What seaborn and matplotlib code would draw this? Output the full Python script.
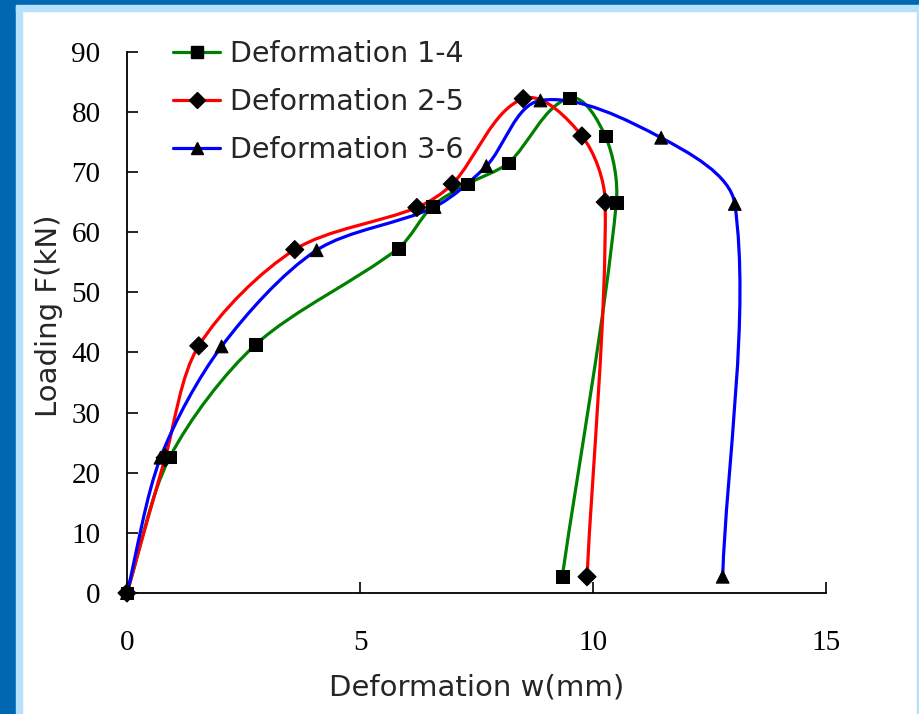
import numpy as np
import pandas as pd
import matplotlib
matplotlib.use('Agg')
import matplotlib.pyplot as plt
from matplotlib.path import Path
from matplotlib.patches import PathPatch, Rectangle
from matplotlib.lines import Line2D
import seaborn as sns

# values
w_14 = [0.0, 0.92, 2.76, 5.82, 6.55, 7.30, 8.18, 9.49, 10.26, 10.50, 9.34]
f_14 = [0.0, 22.6, 41.3, 57.3, 64.3, 68.0, 71.5, 82.3, 76.0, 65.0, 2.8]

w_25 = [0.0, 0.82, 1.54, 3.60, 6.22, 6.98, 8.50, 9.76, 10.26, 9.87]
f_25 = [0.0, 22.5, 41.1, 57.1, 64.1, 68.0, 82.2, 76.0, 65.0, 2.7]

w_36 = [0.0, 0.72, 2.03, 4.07, 6.60, 7.71, 8.87, 11.46, 13.04, 12.78]
f_36 = [0.0, 22.5, 41.0, 57.0, 64.2, 71.0, 81.9, 75.7, 64.7, 2.7]

labels = ["Deformation 1-4", "Deformation 2-5", "Deformation 3-6"]
colors = ["#008000", "#ff0000", "#0000ff"]
markers = ["s", "D", "^"]

df = pd.concat([
    pd.DataFrame({"w": w_14, "F": f_14, "series": labels[0]}),
    pd.DataFrame({"w": w_25, "F": f_25, "series": labels[1]}),
    pd.DataFrame({"w": w_36, "F": f_36, "series": labels[2]}),
])


def smooth_path(x, y, sx=699 / 15, sy=541 / 90, k=0.9):
    # excel style smoothed line: bezier segments through the points,
    # tangents scaled by segment length (worked out in screen-ish units)
    pts = np.column_stack([np.asarray(x) * sx, np.asarray(y) * sy]).astype(float)
    n = len(pts)
    tan = []
    for i in range(n):
        d = pts[min(i + 1, n - 1)] - pts[max(i - 1, 0)]
        tan.append(d / np.hypot(*d))
    verts = [pts[0]]
    codes = [Path.MOVETO]
    for i in range(n - 1):
        L = np.hypot(*(pts[i + 1] - pts[i]))
        verts += [pts[i] + tan[i] * L * k / 3, pts[i + 1] - tan[i + 1] * L * k / 3, pts[i + 1]]
        codes += [Path.CURVE4] * 3
    verts = np.array(verts) / [sx, sy]
    return Path(verts, codes)


sns.set_style("ticks")
plt.rcParams["font.family"] = ["DejaVu Sans"]

fig = plt.figure(figsize=(9.2, 7.14), dpi=100)
ax = fig.add_axes([0.138, 0.1695, 0.760, 0.758])

for (xs, ys), c in zip([(w_14, f_14), (w_25, f_25), (w_36, f_36)], colors):
    ax.add_patch(PathPatch(smooth_path(xs, ys), facecolor="none", edgecolor=c,
                           lw=2.3, zorder=2, capstyle="round"))

sns.scatterplot(data=df, x="w", y="F", style="series", markers=dict(zip(labels, markers)),
                color="black", edgecolor="black", s=85, legend=False, ax=ax,
                zorder=3, clip_on=False)

ax.set_xlim(0, 15)
ax.set_ylim(0, 90)
ax.set_xticks([0, 5, 10, 15])
ax.set_yticks(range(0, 91, 10))
ax.tick_params(direction="in", length=8, width=1.2, colors="black")
ax.tick_params(axis="x", pad=27)
ax.tick_params(axis="y", pad=19)
for lab in ax.get_xticklabels() + ax.get_yticklabels():
    lab.set_fontfamily("Liberation Serif")
    lab.set_fontsize(21)
sns.despine(ax=ax)
for s in ["left", "bottom"]:
    ax.spines[s].set_linewidth(1.3)
    ax.spines[s].set_color("black")

ax.set_xlabel("Deformation w(mm)", fontsize=21, labelpad=12)
ax.set_ylabel("Loading F(kN)", fontsize=21)
ax.yaxis.set_label_coords(-0.092, 0.512)

handles = [Line2D([], [], color=c, lw=2.3, marker=m, markerfacecolor="black",
                  markeredgecolor="black", markersize=8)
           for c, m in zip(colors, markers)]
ax.legend(handles, labels, loc="upper left", bbox_to_anchor=(0.066, 1.022), frameon=False,
          fontsize=20.5, borderpad=0, borderaxespad=0, handlelength=1.65,
          handletextpad=0.35, labelspacing=0.70)

# blue slide frame
dark, light = "#0068b3", "#b5e1fd"
fig.patches.append(Rectangle((0, 0), 16 / 920, 1, transform=fig.transFigure, color=dark, zorder=0))
fig.patches.append(Rectangle((16 / 920, 0), 6 / 920, 1, transform=fig.transFigure, color=light, zorder=0))
fig.patches.append(Rectangle((0, 1 - 5 / 714), 1, 5 / 714, transform=fig.transFigure, color=dark, zorder=0))
fig.patches.append(Rectangle((16 / 920, 1 - 11 / 714), 1, 6 / 714, transform=fig.transFigure, color=light, zorder=0))
fig.patches.append(Rectangle((917 / 920, 0), 3 / 920, 1 - 5 / 714, transform=fig.transFigure, color=light, zorder=0))

fig.savefig("out.png", dpi=100)
